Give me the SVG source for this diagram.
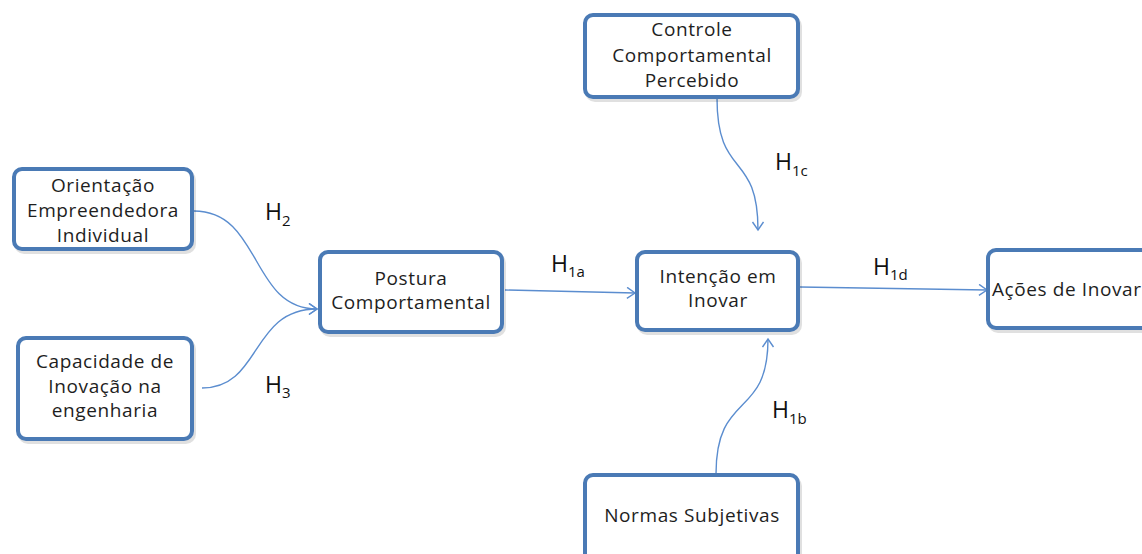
<svg xmlns="http://www.w3.org/2000/svg" width="1142" height="554" viewBox="0 0 1142 554">
  <style>
    .box { fill: #ffffff; stroke: #4a7ab5; stroke-width: 4; }
    .shadow { fill: none; stroke: #000000; stroke-opacity: 0.12; stroke-width: 4; }
    .label { font-family: "Open Sans", "Liberation Sans", sans-serif; font-size: 19px; letter-spacing: 0.6px; fill: #1e1e1e; text-anchor: middle; }
    .hyp { font-family: "Open Sans", "Liberation Sans", sans-serif; font-size: 23px; fill: #111111; }
    .sub { font-size: 15px; }
    .link { fill: none; stroke: #5b8dcf; stroke-width: 1.4; marker-end: url(#arrow); }
  </style>
  <defs>
    <marker id="arrow" markerUnits="userSpaceOnUse" markerWidth="12" markerHeight="14" refX="9" refY="6" orient="auto">
      <path d="M1,0.5 L9,6 L1,11.5" fill="none" stroke="#5b8dcf" stroke-width="1.4"/>
    </marker>
  </defs>
  <rect width="1142" height="554" fill="#ffffff"/>

  <!-- connectors -->
  <g id="connectors">
    <path class="link" d="M194,211 C262,211 250,309 317,309"/>
    <path class="link" d="M202,388 C262,388 250,309 317,309"/>
    <path class="link" d="M505,290 L635,293"/>
    <path class="link" d="M717,98 C717,180 758,150 758,230"/>
    <path class="link" d="M716,474 C716,390 768,420 768,339"/>
    <path class="link" d="M800,287 L987,290"/>
  </g>

  <!-- hypothesis labels -->
  <g id="hypotheses">
    <text class="hyp" x="265" y="220">H<tspan class="sub" dy="6">2</tspan></text>
    <text class="hyp" x="265" y="393">H<tspan class="sub" dy="5">3</tspan></text>
    <text class="hyp" x="551" y="272">H<tspan class="sub" dy="5">1a</tspan></text>
    <text class="hyp" x="775" y="170">H<tspan class="sub" dy="6">1c</tspan></text>
    <text class="hyp" x="873" y="275">H<tspan class="sub" dy="5">1d</tspan></text>
    <text class="hyp" x="772" y="418">H<tspan class="sub" dy="6">1b</tspan></text>
  </g>

  <g id="orientacao">
    <rect class="shadow" x="16" y="172" width="178" height="80" rx="8"/>
    <rect class="box" x="14" y="169" width="178" height="80" rx="8"/>
    <text class="label" x="103" y="192">Orientação</text>
    <text class="label" x="103" y="217">Empreendedora</text>
    <text class="label" x="103" y="242">Individual</text>
  </g>

  <g id="capacidade">
    <rect class="shadow" x="20" y="341" width="174" height="101" rx="8"/>
    <rect class="box" x="18" y="338" width="174" height="101" rx="8"/>
    <text class="label" x="105" y="368">Capacidade de</text>
    <text class="label" x="105" y="393">Inovação na</text>
    <text class="label" x="105" y="417">engenharia</text>
  </g>

  <g id="postura">
    <rect class="shadow" x="322" y="255" width="182" height="80" rx="8"/>
    <rect class="box" x="320" y="252" width="182" height="80" rx="8"/>
    <text class="label" x="411" y="285">Postura</text>
    <text class="label" x="411" y="309">Comportamental</text>
  </g>

  <g id="controle">
    <rect class="shadow" x="587" y="18" width="213" height="82" rx="8"/>
    <rect class="box" x="585" y="15" width="213" height="82" rx="8"/>
    <text class="label" x="692" y="36">Controle</text>
    <text class="label" x="692" y="62">Comportamental</text>
    <text class="label" x="692" y="87">Percebido</text>
  </g>

  <g id="intencao">
    <rect class="shadow" x="639" y="255" width="161" height="78" rx="8"/>
    <rect class="box" x="637" y="252" width="161" height="78" rx="8"/>
    <text class="label" x="718" y="283">Intenção em</text>
    <text class="label" x="718" y="307">Inovar</text>
  </g>

  <g id="acoes">
    <rect class="shadow" x="990" y="253" width="180" height="78" rx="8"/>
    <rect class="box" x="988" y="250" width="180" height="78" rx="8"/>
    <text class="label" x="992" y="296" style="text-anchor:start">Ações de Inovar</text>
  </g>

  <g id="normas">
    <rect class="shadow" x="587" y="478" width="213" height="90" rx="8"/>
    <rect class="box" x="585" y="475" width="213" height="90" rx="8"/>
    <text class="label" x="692" y="522">Normas Subjetivas</text>
  </g>
</svg>
